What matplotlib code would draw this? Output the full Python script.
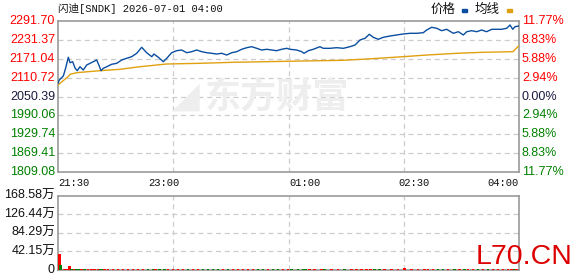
import numpy as np
import matplotlib
matplotlib.use("Agg")
import matplotlib.pyplot as plt

# minutes since 21:30 and price
t_price = [0, 1.1, 4.5, 6.5, 8.7, 10.2, 12.4, 14.4, 16.3, 18.6, 21.4, 24.3, 27.1, 29.9, 32.7, 34.9,
           36.4, 38.3, 41.2, 45.4, 49.7, 53.9, 58.1, 62.3, 66.6, 70.8, 75.0, 79.3, 81.2, 84.9, 89.1,
           92.0, 96.2, 100.4, 104.6, 108.9, 113.1, 117.3, 121.6, 125.8, 130.0, 134.3, 138.5, 142.7,
           147.0, 151.2, 155.4, 159.7, 163.9, 168.1, 172.3, 176.6, 180.8, 185.0, 189.2, 193.5, 196.3,
           201.9, 206.2, 208.1, 211.8, 216.0, 221.6, 224.4, 230.1, 235.8, 241.4, 247.0, 251.3, 255.5,
           259.7, 263.4, 266.7, 271.0, 275.2, 280.9, 286.5, 292.1, 297.8, 303.5, 309.0, 311.9, 316.1,
           320.4, 324.6, 328.8, 334.4, 338.7, 342.9, 345.8, 350.0, 354.2, 358.4, 362.6, 366.9, 371.1,
           375.3, 379.6, 382.4, 384.7, 386.6, 390]
price = [2092.6, 2103.1, 2115.9, 2141.5, 2175.7, 2158.4, 2161.6, 2141.5, 2132.9, 2145.6, 2135.1,
         2151.1, 2156.5, 2161.6, 2167.1, 2147.9, 2132.9, 2140.5, 2145.6, 2153.3, 2156.5, 2167.1,
         2172.5, 2177.6, 2188.5, 2207.6, 2190.4, 2177.6, 2186.2, 2175.7, 2161.6, 2172.5, 2190.4,
         2196.8, 2199.0, 2190.4, 2193.6, 2199.0, 2193.6, 2190.4, 2188.5, 2186.2, 2188.5, 2183.0,
         2190.4, 2193.6, 2201.3, 2206.4, 2209.6, 2204.4, 2199.0, 2201.3, 2199.0, 2196.8, 2201.3,
         2204.4, 2201.3, 2199.0, 2193.6, 2188.5, 2196.8, 2201.3, 2209.6, 2204.4, 2204.4, 2206.4,
         2204.4, 2209.6, 2215.0, 2231.0, 2236.4, 2249.2, 2239.6, 2233.2, 2239.6, 2243.8, 2247.0,
         2250.2, 2252.4, 2252.4, 2254.3, 2262.9, 2271.6, 2268.4, 2260.7, 2265.2, 2252.4, 2257.5,
         2247.0, 2257.5, 2260.7, 2257.5, 2262.9, 2257.5, 2265.2, 2265.2, 2265.2, 2268.4, 2278.9,
         2265.2, 2273.5, 2275.7]

t_avg = [0, 1.7, 8.5, 10.2, 15.8, 35.5, 52.5, 69.4, 92.0, 120.1, 148.0, 193.7, 241.1, 261.4,
         291.9, 312.2, 337.6, 359.5, 384.9, 389, 390]
avg = [2087.1, 2092.6, 2113.7, 2121.3, 2126.5, 2132.9, 2137.3, 2145.6, 2154.3, 2156.5, 2159.7,
       2162.9, 2166.1, 2170.2, 2177.6, 2183.0, 2188.5, 2191.7, 2193.6, 2209.6, 2212.0]

# volume (万), one bar per price point
volume = [36, 11, 2.2, 2.4, 9, 2.3, 2.2, 2.3, 2.1, 2.2, 2.0, 2.1, 2.0, 2.2, 2.1, 2.0,
          2.2, 2.0, 2.1, 2.0, 2.2, 2.1, 2.0, 2.1, 2.2, 2.0, 2.1, 2.0, 2.2, 2.0, 2.1,
          2.0, 2.1, 2.0, 2.2, 2.0, 2.1, 2.0, 2.0, 2.1, 2.0, 2.2, 2.0, 2.1, 2.0, 2.1,
          2.0, 2.2, 2.0, 2.1, 2.0, 2.1, 2.0, 2.2, 2.0, 2.1, 2.0, 2.1, 2.0, 2.0, 2.1,
          2.0, 2.2, 2.0, 2.1, 2.0, 2.1, 2.0, 2.2, 2.0, 2.1, 2.0, 2.1, 2.0, 2.2, 2.0,
          2.1, 3.5, 2.1, 2.0, 2.2, 2.0, 2.1, 2.0, 2.1, 2.0, 2.2, 2.0, 2.1, 2.0, 2.1,
          2.0, 2.2, 2.0, 2.1, 2.0, 2.1, 2.0, 2.2, 2.0, 2.1, 155]

prev_close = 2050.39
price_ticks = [2291.70, 2231.37, 2171.04, 2110.72, 2050.39, 1990.06, 1929.74, 1869.41, 1809.08]
pct_labels = ["11.77%", "8.83%", "5.88%", "2.94%", "0.00%", "2.94%", "5.88%", "8.83%", "11.77%"]
vol_ticks = [0, 42.15, 84.29, 126.44, 168.58]
vol_labels = ["0", "42.15万", "84.29万", "126.44万", "168.58万"]
time_labels = ["21:30", "23:00", "01:00", "02:30", "04:00"]

RED = "#ff0000"
GREEN = "#008000"
DARK = "#1a1a40"
GRID = "#cccccc"
FRAME = "#999999"
SANS = ["Liberation Sans", "Noto Sans CJK SC"]
MONO = ["Liberation Mono", "Noto Sans CJK SC"]

fig = plt.figure(figsize=(5.78, 2.76), dpi=100)
W, H = 578.0, 276.0
x0, x1 = 58, 519
ax = fig.add_axes([x0 / W, 1 - 172 / H, (x1 - x0) / W, (172 - 21) / H])
axv = fig.add_axes([x0 / W, 1 - 270 / H, (x1 - x0) / W, (270 - 196) / H])

for a in (ax, axv):
    a.set_xlim(0, 390)
    a.set_xticks([])
    a.set_yticks([])
    for s in a.spines.values():
        s.set_color(FRAME)
        s.set_linewidth(1.2)
    for f in (0.25, 0.5, 0.75):
        a.axvline(390 * f, color=GRID, lw=0.9, ls=(0, (4, 3)), zorder=0)

ax.set_ylim(price_ticks[-1], price_ticks[0])
for v in price_ticks[1:-1]:
    ax.axhline(v, color=GRID, lw=0.9, ls=(0, (4, 3)), zorder=0)

# watermark
fig.text(0.355, 0.65, "东方财富", fontsize=26, color="#eeeeee", fontweight="bold",
         family=["Noto Sans CJK SC"], ha="left", va="center", zorder=0)
fig.text(0.345, 0.65, "◢", fontsize=26, color="#eeeeee", ha="right", va="center",
         family=["DejaVu Sans"], zorder=0)

ax.plot(t_avg, avg, color="#e0a010", lw=1.0, zorder=3)
ax.plot(t_price, price, color="#0a4ea0", lw=1.0, zorder=4)

# left / right price labels
for v, p in zip(price_ticks, pct_labels):
    if v > prev_close + 1:
        c = RED
    elif v < prev_close - 1:
        c = GREEN
    else:
        c = DARK
    y = ax.transData.transform((0, v))[1]
    yf = fig.transFigure.inverted().transform((0, y))[1]
    fig.text(55 / W, yf, "%.2f" % v, color=c, fontsize=9, family=SANS, ha="right", va="center")
    fig.text(522 / W, yf, p, color=c, fontsize=9, family=SANS, ha="left", va="center")

# time labels
for lab, px, ha in zip(time_labels, [58, 148, 289, 398, 519], ["left"] * 4 + ["right"]):
    fig.text(px / W, 1 - 183 / H, lab, fontsize=7.6, family=MONO, ha=ha, va="center", color="#111111")

# title and legend
fig.text(58 / W, 1 - 9 / H, "闪迪[SNDK] 2026-07-01 04:00", fontsize=7.6, family=MONO,
         ha="left", va="center", color="#111111")
fig.text(431 / W, 1 - 10 / H, "价格", fontsize=9, family=SANS, ha="left", va="center", color="#111111")
fig.text(475 / W, 1 - 10 / H, "均线", fontsize=9, family=SANS, ha="left", va="center", color="#111111")
fig.patches.append(plt.Rectangle((462 / W, 1 - 12 / H), 5 / W, 3 / H, color="#0a4ea0",
                                 transform=fig.transFigure, figure=fig))
fig.patches.append(plt.Rectangle((507 / W, 1 - 12 / H), 5 / W, 3 / H, color="#e0a010",
                                 transform=fig.transFigure, figure=fig))

# volume
axv.set_ylim(0, vol_ticks[-1])
for v in vol_ticks[1:-1]:
    axv.axhline(v, color=GRID, lw=0.9, ls=(0, (4, 3)), zorder=0)
colors = [RED] + [RED if price[i] >= price[i - 1] else GREEN for i in range(1, len(price))]
colors[1] = GREEN
colors[-1] = GREEN
axv.bar(t_price, volume, width=2.2, color=colors, align="edge", zorder=3)
for v, lab in zip(vol_ticks, vol_labels):
    y = axv.transData.transform((0, v))[1]
    yf = fig.transFigure.inverted().transform((0, y))[1]
    fig.text(55 / W, yf, lab, color="#111111", fontsize=9, family=SANS, ha="right", va="center")

fig.text(573 / W, 1 - 257 / H, "L70.CN", fontsize=20.5, color="#dd0000", family=["Liberation Sans"],
         ha="right", va="center")

fig.savefig("out.png", dpi=100)
